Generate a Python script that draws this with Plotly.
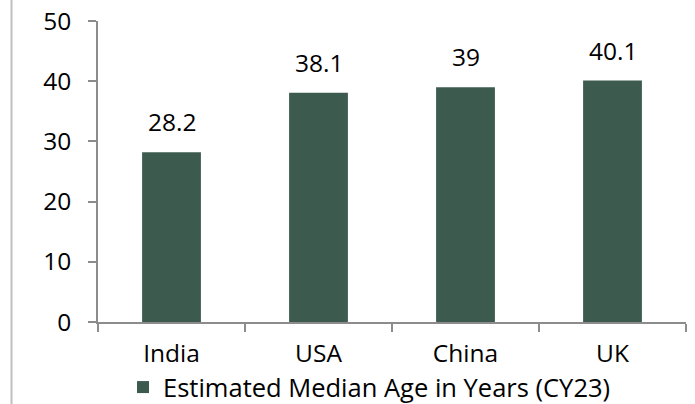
import plotly.graph_objects as go

categories = ["India", "USA", "China", "UK"]
median_age = [28.2, 38.1, 39, 40.1]
labels = ["28.2", "38.1", "39", "40.1"]
series_name = "Estimated Median Age in Years (CY23)"
y_ticks = [0, 10, 20, 30, 40, 50]

BAR = "#3C5A4E"
FONT = "Open Sans"
FS = 24.5
W, H = 695, 404
L, R, T, B = 98, 9, 21, 82
pw = W - L - R
ph = H - T - B

fig = go.Figure()
fig.add_trace(go.Bar(x=categories, y=median_age, name=series_name,
                     marker=dict(color=BAR, line=dict(width=0)), width=0.4,
                     showlegend=True))

for c, v, t in zip(categories, median_age, labels):
    fig.add_annotation(x=c, y=v, text=t, showarrow=False, yanchor="bottom",
                       yshift=12, font=dict(family=FONT, size=FS, color="#000000"))

fig.add_shape(type="line", xref="paper", yref="paper",
              x0=(11.5 - L) / pw, x1=(11.5 - L) / pw,
              y0=(T + ph - H) / ph, y1=(T + ph) / ph,
              line=dict(color="#bfbfbf", width=2))

fig.update_layout(
    width=W, height=H,
    margin=dict(l=L, r=R, t=T, b=B, pad=0, autoexpand=False),
    paper_bgcolor="white", plot_bgcolor="white",
    font=dict(family=FONT, size=FS, color="#000000"),
    legend=dict(orientation="h", xref="container", yref="container",
                x=123 / W, xanchor="left", y=(H - 364) / H, yanchor="top",
                font=dict(size=25.5), itemwidth=30, bgcolor="rgba(0,0,0,0)"),
    xaxis=dict(range=[-0.5, 3.5], showline=True, linecolor="#8c8c8c", linewidth=1.5,
               ticks="outside", tickson="boundaries", ticklen=8, tickcolor="#8c8c8c",
               tickwidth=1.5, showgrid=False, zeroline=False, fixedrange=True,
               automargin=False, ticklabelstandoff=9),
    yaxis=dict(range=[0, 50], tickvals=y_ticks, showline=True, linecolor="#8c8c8c",
               linewidth=1.5, ticks="outside", ticklen=8, tickcolor="#8c8c8c",
               tickwidth=1.5, showgrid=False, zeroline=False, ticklabelstandoff=12,
               fixedrange=True, automargin=False),
)

fig.write_html("out.html")
